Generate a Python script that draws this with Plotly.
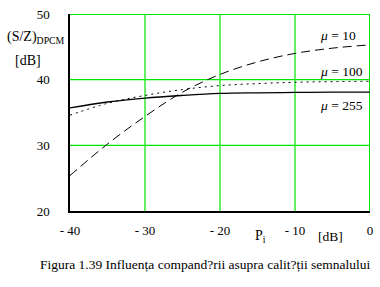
import plotly.graph_objects as go

P_i = [-40, -35, -30, -25, -20, -15, -10, -5, 0]
snr_mu10 = [25.4, 30.2, 34.4, 38.1, 40.8, 42.7, 44.0, 44.8, 45.3]
snr_mu100 = [34.6, 36.4, 37.6, 38.5, 39.1, 39.4, 39.6, 39.7, 39.75]
snr_mu255 = [35.7, 36.6, 37.2, 37.6, 37.9, 38.0, 38.05, 38.1, 38.1]

x_ticks = [-40, -30, -20, -10, 0]
x_ticktext = ["- 40", "- 30", "- 20", "- 10", "0"]
y_ticks = [20, 30, 40, 50]

FONT = "Liberation Serif"
GREEN = "#00e600"

fig = go.Figure()
fig.add_trace(go.Scatter(x=P_i, y=snr_mu10, mode="lines", line=dict(color="black", width=1, dash="9px,5px"), line_shape="spline"))
fig.add_trace(go.Scatter(x=P_i, y=snr_mu100, mode="lines", line=dict(color="black", width=1, dash="2px,4px"), line_shape="spline"))
fig.add_trace(go.Scatter(x=P_i, y=snr_mu255, mode="lines", line=dict(color="black", width=1.3), line_shape="spline"))

L, R, T, B = 70, 7, 10, 76
W, H = 380, 287
pw, ph = W - L - R, H - T - B

def px(x):
    return (x - L) / pw

def py(y):
    return (H - B - y) / ph

ann = []
def add(text, x, y, size=12, xanchor="center"):
    ann.append(dict(text=text, x=px(x), y=py(y), xref="paper", yref="paper", showarrow=False,
                    xanchor=xanchor, yanchor="middle", font=dict(family=FONT, size=size, color="black")))

add("<i>μ</i> = 10", 320, 32, 13.5, "left")
add("<i>μ</i> = 100", 320, 69, 13.5, "left")
add("<i>μ</i> = 255", 320, 103, 13.5, "left")
add("(S/Z)<sub>DPCM</sub>", 4, 34, 14, "left")
add("[dB]", 28, 57, 14)
add("P<sub>i</sub>", 262, 237, 14)
add("[dB]", 333, 237, 13.5)
add("Figura 1.39 Influența compand?rii asupra calit?ții semnalului", 207, 266, 13.5)

shapes = []
for xv in x_ticks[1:]:
    shapes.append(dict(type="line", xref="x", yref="paper", x0=xv, x1=xv, y0=0, y1=1,
                       line=dict(color=GREEN, width=2 if xv == 0 else 1.2), layer="below"))
for yv in y_ticks[1:]:
    shapes.append(dict(type="line", xref="paper", yref="y", x0=0, x1=1, y0=yv, y1=yv,
                       line=dict(color=GREEN, width=2 if yv == 50 else 1.2), layer="below"))

fig.update_layout(
    width=W, height=H, margin=dict(l=L, r=R, t=T, b=B),
    paper_bgcolor="white", plot_bgcolor="white", showlegend=False,
    annotations=ann, shapes=shapes,
    font=dict(family=FONT, size=13, color="black"),
    xaxis=dict(range=[-40, 0], tickvals=x_ticks, ticktext=x_ticktext, showgrid=False,
               zeroline=False, showline=True, linecolor="black", linewidth=1.5, ticks="", ticklabelstandoff=7,
               tickfont=dict(family=FONT, size=13)),
    yaxis=dict(range=[20, 50], tickvals=y_ticks, showgrid=False,
               zeroline=False, showline=True, linecolor="black", linewidth=1.5, ticks="", ticklabelstandoff=16,
               tickfont=dict(family=FONT, size=13)),
)
fig.write_html("out.html")
